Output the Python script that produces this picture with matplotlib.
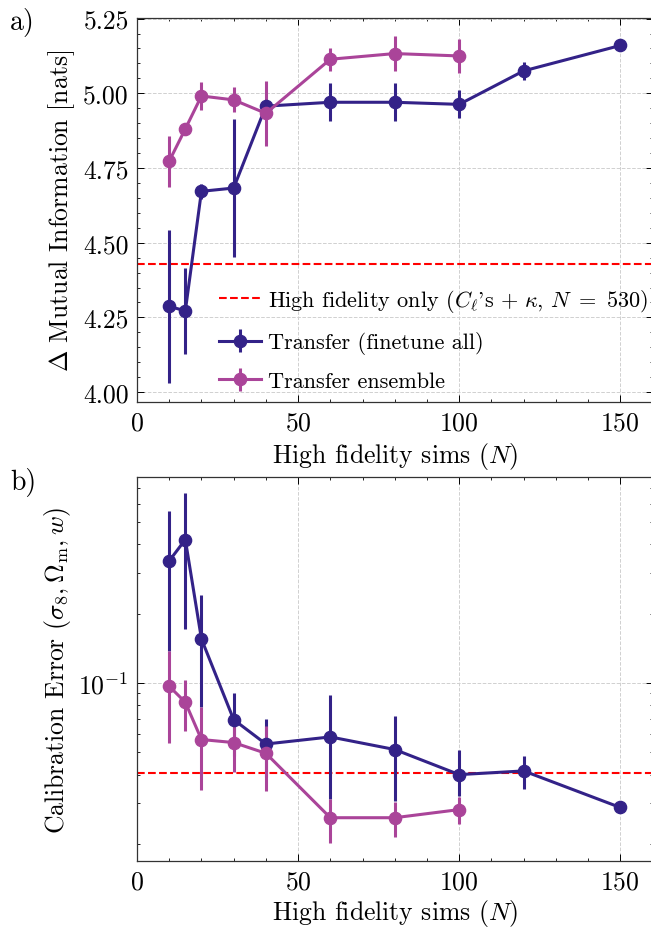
import numpy as np
import matplotlib
matplotlib.use("Agg")
import matplotlib.pyplot as plt
from matplotlib.ticker import MultipleLocator

# ---- data ----
N_transfer = [10, 15, 20, 30, 40, 60, 80, 100, 120, 150]
mi_transfer = [4.287, 4.272, 4.672, 4.683, 4.957, 4.970, 4.970, 4.963, 5.075, 5.160]
mi_transfer_err = [0.255, 0.145, 0.025, 0.230, 0.012, 0.063, 0.063, 0.047, 0.030, 0.004]

N_ens = [10, 15, 20, 30, 40, 60, 80, 100]
mi_ens = [4.773, 4.881, 4.991, 4.978, 4.933, 5.114, 5.133, 5.125]
mi_ens_err = [0.085, 0.015, 0.046, 0.042, 0.108, 0.038, 0.060, 0.057]

mi_hf_only = 4.428

cal_transfer = [0.3386, 0.419, 0.1552, 0.0693, 0.0543, 0.0583, 0.0514, 0.0400, 0.0415, 0.0288]
cal_transfer_lo = [0.1372, 0.171, 0.0787, 0.048, 0.039, 0.0315, 0.0306, 0.0322, 0.0348, 0.0286]
cal_transfer_hi = [0.558, 0.664, 0.2403, 0.0905, 0.0695, 0.089, 0.0717, 0.051, 0.0482, 0.0290]

cal_ens = [0.0967, 0.0824, 0.0568, 0.0551, 0.0495, 0.0260, 0.0260, 0.0282]
cal_ens_lo = [0.055, 0.062, 0.0342, 0.0411, 0.034, 0.0202, 0.0214, 0.0243]
cal_ens_hi = [0.137, 0.1027, 0.0787, 0.0655, 0.0649, 0.0315, 0.0304, 0.032]

cal_hf_only = 0.0406

# ---- style ----
plt.rcParams.update({
    "font.family": "serif",
    "font.serif": ["cmr10"],
    "mathtext.fontset": "cm",
    "axes.formatter.use_mathtext": True,
    "font.size": 18.5,
    "axes.linewidth": 0.9,
    "axes.edgecolor": "#333333",
    "xtick.direction": "in",
    "ytick.direction": "in",
    "xtick.top": True,
    "ytick.right": True,
    "xtick.major.size": 5,
    "ytick.major.size": 5,
    "xtick.minor.size": 2.5,
    "ytick.minor.size": 2.5,
    "xtick.major.width": 0.7,
    "ytick.major.width": 0.7,
    "xtick.minor.width": 0.6,
    "ytick.minor.width": 0.6,
    "xtick.minor.visible": True,
    "ytick.minor.visible": True,
})

C_BLUE = "#332288"
C_MAG = "#AA4499"

fig = plt.figure(figsize=(6.51, 9.28), dpi=100)
W = 651.0
H = 928.0
left = 137 / W
width = (652.5 - 137) / W
ax1 = fig.add_axes([left, 1 - 403 / H, width, 384 / H])
ax2 = fig.add_axes([left, 1 - 862 / H, width, 384 / H])

ekw = dict(marker="o", markersize=8.8, linewidth=2.2, elinewidth=2.2, capsize=0)

# panel a
ax1.axhline(mi_hf_only, color="red", ls="--", lw=1.5,
            label=r"High fidelity only ($C_\ell$'s $+\ \kappa$, $N\ =\ 530$)")
ax1.errorbar(N_transfer, mi_transfer, yerr=mi_transfer_err, color=C_BLUE,
             label="Transfer (finetune all)", **ekw)
ax1.errorbar(N_ens, mi_ens, yerr=mi_ens_err, color=C_MAG,
             label="Transfer ensemble", **ekw)
ax1.set_xlim(0, 160)
ax1.set_ylim(3.967, 5.252)
ax1.set_yticks([4.00, 4.25, 4.50, 4.75, 5.00, 5.25])
ax1.yaxis.set_major_formatter(matplotlib.ticker.FormatStrFormatter("%.2f"))
ax1.xaxis.set_major_locator(MultipleLocator(50))
ax1.xaxis.set_minor_locator(MultipleLocator(10))
ax1.yaxis.set_minor_locator(MultipleLocator(0.05))
ax1.set_xlabel(r"High fidelity sims ($N$)")
ax1.set_ylabel(r"$\Delta$ Mutual Information [nats]")
ax1.grid(True, which="major", ls="--", color="#d0d0d0", lw=0.7)
leg = ax1.legend(loc="lower right", bbox_to_anchor=(1.008, 0.005),
                 frameon=False, fontsize=16,
                 handlelength=1.9, handletextpad=0.3,
                 borderaxespad=0.05, borderpad=0.35, labelspacing=0.78)

# panel b
ax2.axhline(cal_hf_only, color="red", ls="--", lw=1.5)
yerr_t = [np.array(cal_transfer) - np.array(cal_transfer_lo),
          np.array(cal_transfer_hi) - np.array(cal_transfer)]
yerr_e = [np.array(cal_ens) - np.array(cal_ens_lo),
          np.array(cal_ens_hi) - np.array(cal_ens)]
ax2.errorbar(N_transfer, cal_transfer, yerr=yerr_t, color=C_BLUE, **ekw)
ax2.errorbar(N_ens, cal_ens, yerr=yerr_e, color=C_MAG, **ekw)
ax2.set_yscale("log")
ax2.set_xlim(0, 160)
ax2.set_ylim(0.01687, 0.783)
ax2.xaxis.set_major_locator(MultipleLocator(50))
ax2.xaxis.set_minor_locator(MultipleLocator(10))
ax2.set_xlabel(r"High fidelity sims ($N$)", labelpad=2.5)
ax2.set_ylabel(r"Calibration Error ($\sigma_8, \Omega_{\rm m}, w$)")
ax2.grid(True, which="major", ls="--", color="#d0d0d0", lw=0.7)

for ax in (ax1, ax2):
    ax.tick_params(axis="both", which="major", pad=6)
    for s in ax.spines.values():
        s.set_zorder(5)

fig.text(10 / W, 1 - 8 / H, "a)", ha="left", va="top", fontsize=20)
fig.text(10 / W, 1 - 468 / H, "b)", ha="left", va="top", fontsize=20)

fig.savefig("out.png", dpi=100)
